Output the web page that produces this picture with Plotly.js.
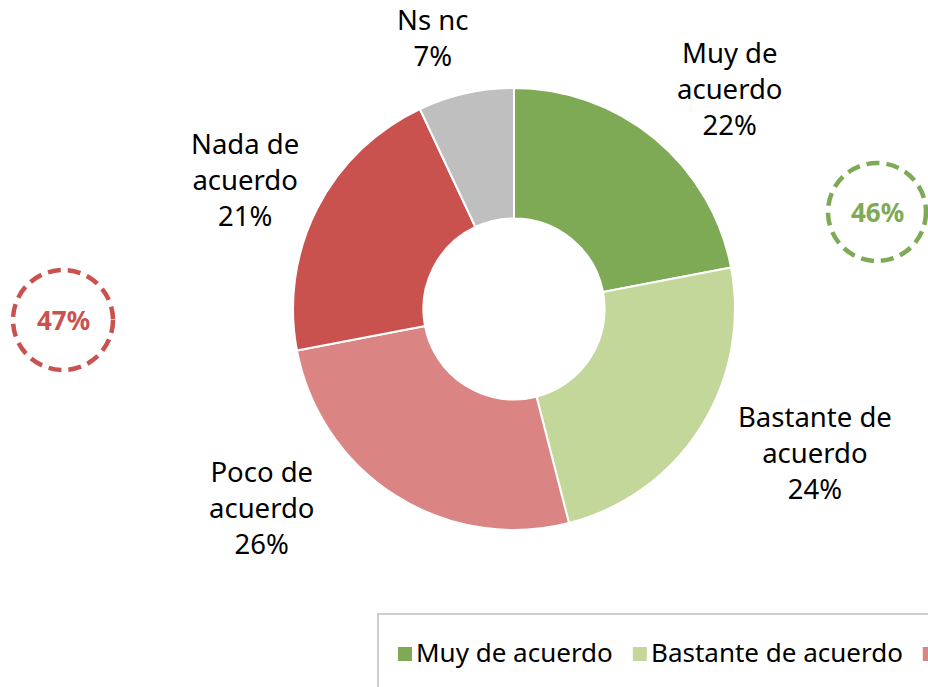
<!DOCTYPE html>
<html><head><meta charset="utf-8">
<script src="https://cdn.plot.ly/plotly-3.0.1.min.js"></script>
<style>html,body{margin:0;padding:0;background:#fff;overflow:hidden}#c{width:928px;height:687px}</style>
</head><body><div id="c"></div>
<script>
const categories = ["Muy de acuerdo", "Bastante de acuerdo", "Poco de acuerdo", "Nada de acuerdo", "Ns nc"];
const labelLines = ["Muy de<br>acuerdo", "Bastante de<br>acuerdo", "Poco de<br>acuerdo", "Nada de<br>acuerdo", "Ns nc"];
const values = [22, 24, 26, 21, 7];
const agreeGroup = [0, 1];
const disagreeGroup = [2, 3];

const colors = ["#7FAA55", "#C4D79B", "#DA8583", "#C9524F", "#BFBFBF"];
const FONT = "Noto Sans, Open Sans, sans-serif";
const W = 928, H = 687;
// label block centers (pixels)
const labelPos = [[730, 88], [815, 452], [262, 507], [245, 179], [432, 37]];

const cx = 514, cy = 309, R = 221;
const px = x => x / W, py = y => 1 - y / H;

const annotations = [];
const shapes = [];
categories.forEach((c, i) => {
  annotations.push({
    xref: 'paper', yref: 'paper', x: px(labelPos[i][0]), y: py(labelPos[i][1]),
    xanchor: 'center', yanchor: 'middle', showarrow: false, align: 'center',
    text: labelLines[i] + '<br>' + values[i] + '%',
    font: {family: FONT, size: 27.5, color: '#000'}
  });
});

// summary dashed circles
const sumAgree = agreeGroup.reduce((s, i) => s + values[i], 0);
const sumDis = disagreeGroup.reduce((s, i) => s + values[i], 0);
const circles = [
  {x: 63, y: 320, r: 50, txt: sumDis + '%', col: colors[3]},
  {x: 877, y: 212, r: 49, txt: sumAgree + '%', col: colors[0]}
];
circles.forEach(o => {
  shapes.push({type: 'circle', xref: 'paper', yref: 'paper',
    x0: px(o.x - o.r), x1: px(o.x + o.r), y0: py(o.y + o.r), y1: py(o.y - o.r),
    line: {color: o.col, width: 4.5, dash: '13px,7px'}});
  annotations.push({xref: 'paper', yref: 'paper', x: px(o.x), y: py(o.y),
    xanchor: 'center', yanchor: 'middle', showarrow: false, text: '<b>' + o.txt + '</b>',
    font: {family: FONT, size: 26, color: o.col}});
});

// legend box (manual)
shapes.push({type: 'rect', xref: 'paper', yref: 'paper', x0: px(378), x1: px(960), y0: py(720), y1: py(614),
  line: {color: '#BFBFBF', width: 1.5}, fillcolor: 'rgba(0,0,0,0)'});
const cv = document.createElement('canvas').getContext('2d');
cv.font = '26px ' + FONT;
let lx = 398;
const ly = 652;
categories.forEach((c, i) => {
  if (lx < W) {
    shapes.push({type: 'rect', xref: 'paper', yref: 'paper', x0: px(lx), x1: px(lx + 14), y0: py(ly + 9), y1: py(ly - 5),
      line: {width: 0}, fillcolor: colors[i]});
  }
  if (lx + 16 < W) {
    annotations.push({xref: 'paper', yref: 'paper', x: px(lx + 16), y: py(ly), xanchor: 'left', yanchor: 'middle',
      showarrow: false, text: c, font: {family: FONT, size: 26, color: '#000'}});
  }
  lx += 16 + cv.measureText(c).width + 22;
});

const trace = {
  type: 'pie', labels: categories, values: values, hole: 0.41, sort: false,
  direction: 'clockwise', rotation: 0, textinfo: 'none', hoverinfo: 'label+percent',
  marker: {colors: colors, line: {color: '#fff', width: 2}},
  domain: {x: [px(cx - R), px(cx + R)], y: [py(cy + R), py(cy - R)]}
};
Plotly.newPlot('c', [trace], {
  width: W, height: H, margin: {l: 0, r: 0, t: 0, b: 0}, showlegend: false,
  paper_bgcolor: '#fff', annotations: annotations, shapes: shapes
}, {displayModeBar: false, staticPlot: true});
</script></body></html>
